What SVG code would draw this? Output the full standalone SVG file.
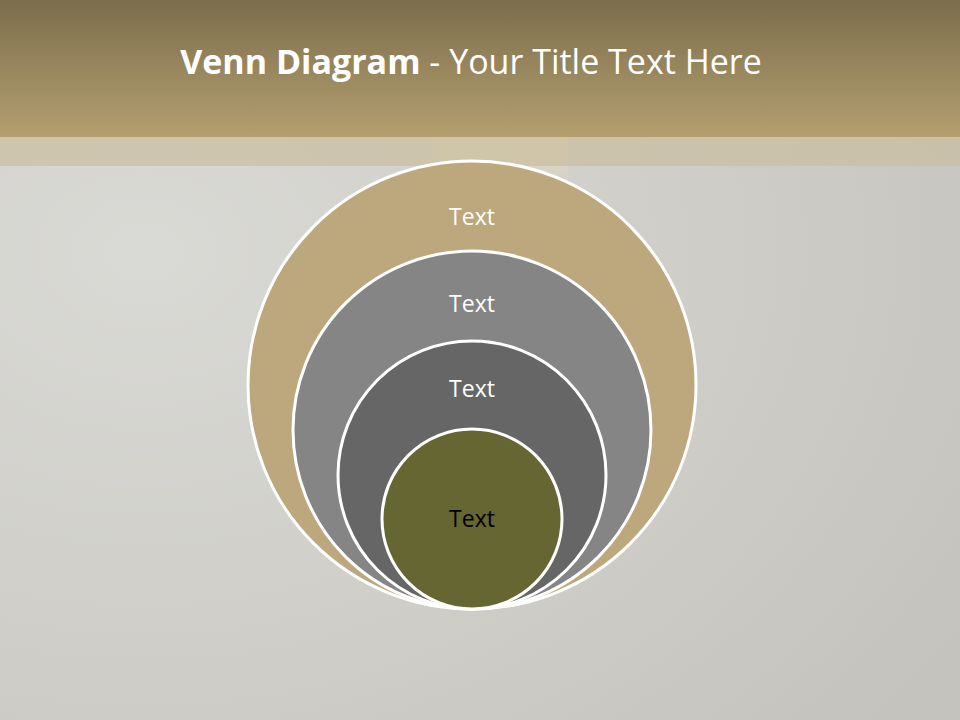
<svg xmlns="http://www.w3.org/2000/svg" width="960" height="720" viewBox="0 0 960 720">
  <style>
    .ring { stroke: #ffffff; stroke-width: 3; }
    .lbl { font-family: "Open Sans", "Liberation Sans", sans-serif; font-size: 23px; text-anchor: middle; fill: #ffffff; }
    .title { font-family: "Open Sans", "Liberation Sans", sans-serif; font-size: 34px; fill: #ffffff; }
  </style>
  <defs>
    <linearGradient id="hdr" x1="0" y1="0" x2="0" y2="1">
      <stop offset="0" stop-color="#7b6d4c"/>
      <stop offset="1" stop-color="#b49f6f"/>
    </linearGradient>
    <radialGradient id="bg" cx="0.15" cy="0.35" r="1">
      <stop offset="0" stop-color="#d9d9d5"/>
      <stop offset="0.55" stop-color="#cfcec9"/>
      <stop offset="1" stop-color="#c4c3be"/>
    </radialGradient>
    <linearGradient id="pillarV" x1="0" y1="0" x2="0" y2="1">
      <stop offset="0" stop-color="#e6d9b8" stop-opacity="0.85"/>
      <stop offset="1" stop-color="#e6d9b8" stop-opacity="0"/>
    </linearGradient>
  </defs>

  <!-- background -->
  <rect x="0" y="0" width="960" height="720" fill="url(#bg)"/>
  <rect x="433" y="137" width="135" height="55" fill="url(#pillarV)"/>
  <rect x="0" y="137" width="960" height="29" fill="#c9bd9f" opacity="0.7"/>
  <rect x="0" y="0" width="960" height="137" fill="url(#hdr)"/>

  <!-- title -->
  <text class="title" x="471" y="74" text-anchor="middle"><tspan font-weight="bold">Venn Diagram</tspan> - Your Title Text Here</text>

  <!-- nodes -->
  <g id="node-outer">
    <circle class="ring" cx="472" cy="385" r="224" fill="#bca87c"/>
    <text class="lbl" x="472" y="225">Text</text>
  </g>
  <g id="node-second">
    <circle class="ring" cx="472" cy="430" r="179" fill="#858585"/>
    <text class="lbl" x="472" y="312">Text</text>
  </g>
  <g id="node-third">
    <circle class="ring" cx="472" cy="475" r="134" fill="#666666"/>
    <text class="lbl" x="472" y="397">Text</text>
  </g>
  <g id="node-inner">
    <circle class="ring" cx="472" cy="519" r="90" fill="#666633"/>
    <text class="lbl" x="472" y="527" style="fill:#000000">Text</text>
  </g>

  <g id="connectors"></g>
</svg>
